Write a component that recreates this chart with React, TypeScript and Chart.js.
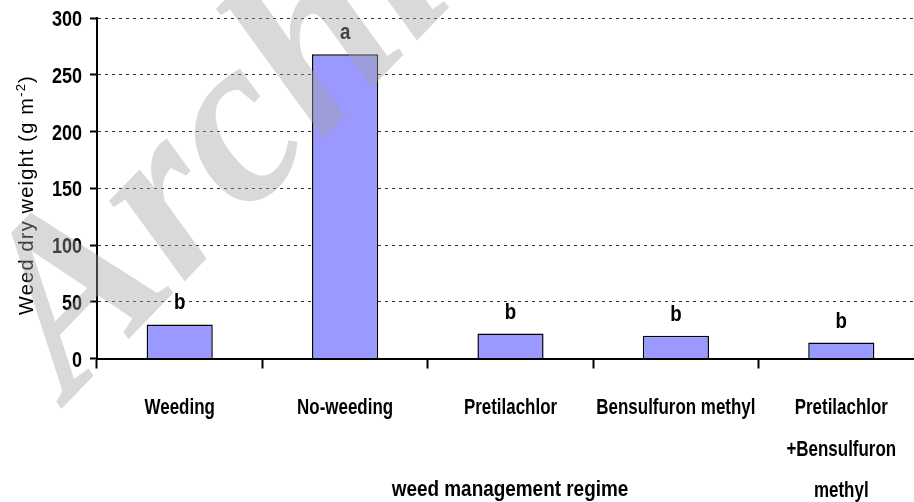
import React, { useEffect, useRef } from "react";
import { Chart, registerables } from "chart.js";

Chart.register(...registerables);

const categories: string[][] = [
  ["Weeding"],
  ["No-weeding"],
  ["Pretilachlor"],
  ["Bensulfuron methyl"],
  ["Pretilachlor", "+Bensulfuron", "methyl"],
];
const dryWeight = [30, 268, 22, 20, 14];
const groupLetters = ["b", "a", "b", "b", "b"];
const yMin = 0;
const yMax = 300;
const yStep = 50;
const yTitleMain = "Weed dry weight (g m";
const yTitleSup = "-2";
const yTitleEnd = ")";
const xTitle = "weed management regime";
const watermark = "Archive";

const BOLD = '"Liberation Sans", Arial, sans-serif';
const REG = '"Liberation Sans", Arial, sans-serif';
const KX = 0.77; // horizontal squeeze to mimic a narrow face

function narrowText(ctx: any, text: string, x: number, y: number, size: number, k: number, align: string) {
  ctx.save();
  ctx.font = `bold ${size}px ${BOLD}`;
  ctx.textBaseline = "alphabetic";
  ctx.textAlign = align;
  ctx.scale(k, 1);
  ctx.fillText(text, x / k, y);
  ctx.restore();
}

const decor = {
  id: "decor",
  afterDatasetsDraw(chart: any) {
    const ctx = chart.ctx;
    const meta = chart.getDatasetMeta(0);
    ctx.save();
    ctx.fillStyle = "#000";
    meta.data.forEach((bar: any, i: number) => {
      narrowText(ctx, groupLetters[i], bar.x, bar.y - 15, 22, 0.85, "center");
    });
    ctx.restore();
  },
  afterDraw(chart: any) {
    const ctx = chart.ctx;
    const xs = chart.scales.x;
    const ys = chart.scales.y;
    ctx.save();
    ctx.fillStyle = "#000";
    // y tick labels
    ys.ticks.forEach((t: any) => {
      const py = ys.getPixelForValue(t.value);
      narrowText(ctx, String(t.value), 82, py + 8, 22, 0.82, "right");
    });
    // x category labels
    categories.forEach((lines, i) => {
      const px = xs.getPixelForValue(i);
      lines.forEach((ln, j) => {
        narrowText(ctx, ln, px, 414 + j * 41.5, 22, KX, "center");
      });
    });
    // x title
    narrowText(ctx, xTitle, 510, 496, 22, 0.86, "center");
    ctx.restore();

    // y title with superscript
    ctx.save();
    ctx.translate(33, 195);
    ctx.rotate(-Math.PI / 2);
    ctx.fillStyle = "#000";
    ctx.textAlign = "left";
    ctx.textBaseline = "alphabetic";
    ctx.letterSpacing = "1.2px";
    ctx.font = `20px ${REG}`;
    const w1 = ctx.measureText(yTitleMain).width;
    const w3 = ctx.measureText(yTitleEnd).width;
    ctx.font = `13px ${REG}`;
    const w2 = ctx.measureText(yTitleSup).width;
    const start = -(w1 + w2 + w3) / 2;
    ctx.font = `20px ${REG}`;
    ctx.fillText(yTitleMain, start, 0);
    ctx.font = `13px ${REG}`;
    ctx.fillText(yTitleSup, start + w1, -8);
    ctx.font = `20px ${REG}`;
    ctx.fillText(yTitleEnd, start + w1 + w2, 0);
    ctx.restore();

    // watermark
    ctx.save();
    ctx.globalAlpha = 0.4;
    ctx.fillStyle = "#a0a0a0";
    ctx.translate(70, 400);
    ctx.rotate((-46 * Math.PI) / 180);
    ctx.font = 'italic bold 240px "Liberation Serif", "DejaVu Serif", serif';
    ctx.textAlign = "left";
    ctx.textBaseline = "alphabetic";
    ctx.fillText(watermark, 0, 0);
    ctx.restore();
  },
};

export default function App() {
  const ref = useRef<HTMLCanvasElement | null>(null);
  useEffect(() => {
    if (!ref.current) return;
    const chart = new Chart(ref.current, {
      type: "bar",
      data: {
        labels: categories.map((c) => c.join(" ")),
        datasets: [
          {
            data: dryWeight,
            backgroundColor: "#9999FF",
            borderColor: "#000000",
            borderWidth: 1.5,
            barPercentage: 0.4,
            categoryPercentage: 1,
          },
        ],
      },
      options: {
        animation: false,
        responsive: false,
        devicePixelRatio: 1,
        layout: { padding: { top: 18, left: 0, right: 0, bottom: 133.5 } },
        plugins: {
          legend: { display: false },
          tooltip: { enabled: false },
          title: { display: false },
        },
        scales: {
          x: {
            grid: {
              display: true,
              drawOnChartArea: false,
              drawTicks: true,
              tickLength: 10,
              tickColor: "#000",
              tickWidth: 2,
            },
            border: { display: true, color: "#000", width: 2 },
            ticks: { display: false },
          },
          y: {
            min: yMin,
            max: yMax,
            afterFit(scale: any) {
              scale.width = 97;
            },
            grid: {
              color: "#333",
              lineWidth: 1,
              drawTicks: true,
              tickLength: 7,
              tickColor: "#000",
              tickWidth: 2,
            },
            border: { display: true, color: "#000", width: 2, dash: [3, 4] },
            ticks: { display: false, stepSize: yStep },
          },
        },
      },
      plugins: [decor],
    });
    return () => chart.destroy();
  }, []);
  return (
    <div
      style={{
        position: "absolute",
        left: 0,
        top: 0,
        width: 914,
        height: 502,
        overflow: "hidden",
        background: "#fff",
      }}
    >
      <canvas ref={ref} width={924} height={502} style={{ display: "block" }} />
    </div>
  );
}
